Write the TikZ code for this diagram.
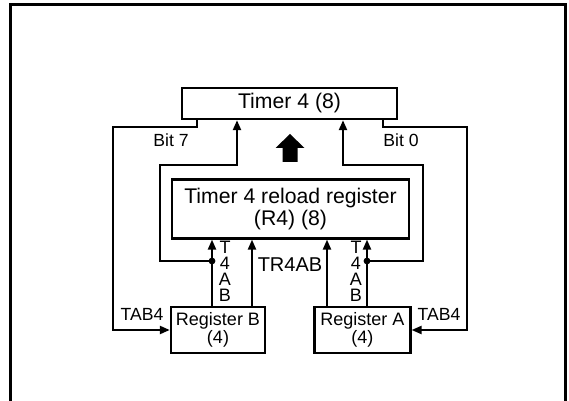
\documentclass[tikz,border=0pt]{standalone}
\usepackage{fontspec}
\setmainfont{Liberation Sans}
\usetikzlibrary{positioning, arrows.meta}

\begin{document}
\begin{tikzpicture}[x=0.5pt, y=-0.5pt,
    box/.style={
        rectangle, draw, line width=1.2pt, inner sep=0pt,
        align=center, font=\fontsize{10.6}{11}\selectfont},
    arr/.style={-{Triangle[length=5pt, width=4pt]}, line width=1.1pt},
    lab/.style={font=\fontsize{8.8}{10}\selectfont, inner sep=0pt},
    vlab/.style={font=\fontsize{9}{8}\selectfont, align=center, inner sep=0pt},
    jdot/.style={circle, fill, inner sep=0pt, minimum size=3.4pt}]
  \useasboundingbox (0,0) rectangle (569,401);
  % Marco
  \draw[line width=1.5pt] (10,401) |- (565,5) -- (565,401);
  % Registros
  \node[box, minimum width=107.5pt, minimum height=15.5pt] (timer) at (289.5,103.5) {Timer 4 (8)};
  \node[box, minimum width=118.5pt, minimum height=29.5pt, below=29pt of timer, xshift=0.5pt]
    (reload) {Timer 4 reload register\\(R4) (8)};
  \node[box, minimum width=47pt, minimum height=23pt, font=\fontsize{9}{9}\selectfont]
    (regB) at (218,330) {Register B\\(4)};
  \node[box, minimum width=48pt, minimum height=23pt, font=\fontsize{9}{9}\selectfont,
    right=23.5pt of regB] (regA) {Register A\\(4)};
  % Puntos de union
  \node[jdot] (dotB) at (212,261) {};
  \node[jdot] (dotA) at (367,261) {};
  % Carga desde B y A
  \draw[arr] (regB.north -| dotB) -- (reload.south -| dotB);
  \draw[arr] (regB.north -| 252,0) -- (reload.south -| 252,0);
  \draw[arr] (regA.north -| 327,0) -- (reload.south -| 327,0);
  \draw[arr] (regA.north -| dotA) -- (reload.south -| dotA);
  % Hacia el temporizador
  \draw[arr] (dotB.center) -| (160,165) -| (timer.south -| 237,0);
  \draw[arr] (dotA.center) -| (423,165) -| (timer.south -| 343,0);
  % Bits de salida
  \draw[arr] (timer.south -| 197,0) |- (113,127) |- (regB.west);
  \draw[arr] (timer.south -| 383,0) |- (467,127) |- (regA.east);
  % Flecha gruesa
  \fill (282.5,162) -- (282.5,148) -- (275.5,148) -- (290,134)
    -- (304.5,148) -- (297.5,148) -- (297.5,162) -- cycle;
  % Etiquetas
  \node[lab] (bit7) at (171,140) {Bit 7};
  \node[lab] (bit0) at (401,140) {Bit 0};
  \node[lab] (tabB) at (142,314) {TAB4};
  \node[lab] (tabA) at (439,314) {TAB4};
  \node[lab, font=\fontsize{10}{12}\selectfont] (tr4ab) at (290,265) {TR4AB};
  \node[vlab] (t4abB) at (225,271) {T\\4\\A\\B};
  \node[vlab] (t4abA) at (356,271) {T\\4\\A\\B};
\end{tikzpicture}
\end{document}
